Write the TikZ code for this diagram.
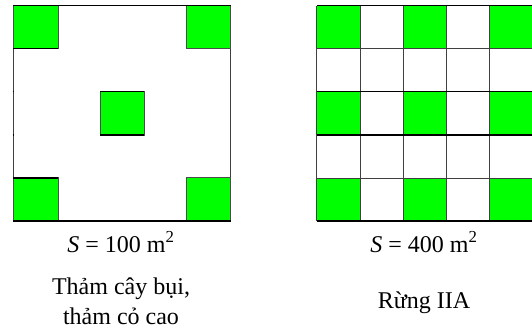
\documentclass[tikz,border=0pt]{standalone}
\usepackage{fontspec}
\setmainfont{Liberation Serif}
\definecolor{cellgreen}{HTML}{00FF00}
\tikzset{
  cell/.style={fill=cellgreen, draw=black!70, line width=0.9pt},
  edge/.style={draw=black!75, line width=1pt},
  heavy/.style={draw=black, line width=1.6pt},
  lbl/.style={font=\fontsize{24}{26}\selectfont, inner sep=0pt, anchor=base}
}
\begin{document}
\begin{tikzpicture}[x=1pt,y=-1pt]
\useasboundingbox (0,0) rectangle (532,331);
\clip (0,0) rectangle (532,331);
% ---------- left plot ----------
\fill[white] (13.3,5.7) rectangle (230.7,220.7);
\draw[edge] (13.3,5.7) -- (13.3,220.7);
\draw[edge] (230.7,5.7) -- (230.7,220.7);
\draw[cell] (13.3,5.7) rectangle (58.3,48.7);
\draw[cell] (186.7,5.7) rectangle (230.7,48.7);
\draw[cell] (100,91.7) rectangle (144.3,135);
\draw[cell] (13.3,177.7) rectangle (58.3,220.7);
\draw[cell] (186.7,177.7) rectangle (230.7,220.7);
\draw[heavy] (13.3,48.7) -- (58.3,48.7);
\draw[heavy] (13.3,177.7) -- (58.3,177.7);
\draw[heavy] (100,91.7) -- (144.3,91.7);
\draw[heavy] (100,135) -- (144.3,135);
\draw[heavy] (12.5,91.7) -- (14.3,91.7);
\draw[heavy] (12.5,135) -- (14.3,135);
\draw[heavy] (13.3,5.7) -- (230.7,5.7);
\draw[heavy] (13.3,220.7) -- (230.7,220.7);
% ---------- right plot ----------
\foreach \c in {0,2,4} {
  \foreach \r in {0,2,4} {
    \fill[cellgreen] (316.7+43.3*\c,5.7+43*\r) rectangle (316.7+43.3*\c+43.3,5.7+43*\r+43);
  }
}
\foreach \i in {1,2,3,4} {
  \draw[edge] (316.7+43.3*\i,5.7) -- (316.7+43.3*\i,220.7);
}
\draw[edge] (316.7,5.7) -- (316.7,220.7);
\draw[edge] (316.7,48.7) -- (533,48.7);
\draw[edge] (316.7,178) -- (533,178);
\draw[heavy] (316.7,91.7) -- (533,91.7);
\draw[heavy] (316.7,135) -- (533,135);
\draw[heavy] (316.7,5.7) -- (533,5.7);
\draw[heavy] (316.7,220.7) -- (533,220.7);
% ---------- labels ----------
\node[lbl] (areaL) at (121,252) {\textit{S} = 100 m\textsuperscript{2}};
\node[lbl] (nameL1) at (121,294) {Thảm cây bụi,};
\node[lbl] (nameL2) at (121,324) {thảm cỏ cao};
\node[lbl] (areaR) at (424,252) {\textit{S} = 400 m\textsuperscript{2}};
\node[lbl] (nameR) at (424,308) {Rừng IIA};
\end{tikzpicture}
\end{document}
